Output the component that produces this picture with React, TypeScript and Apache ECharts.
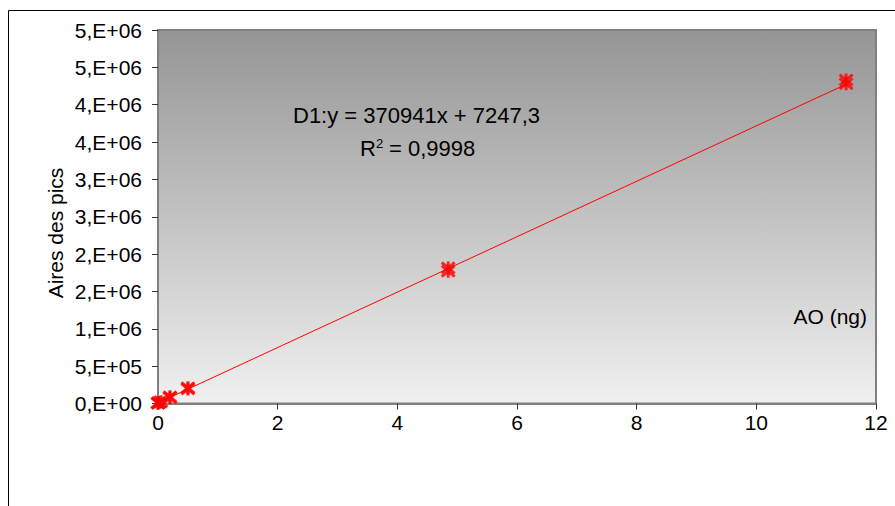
import React, { useEffect, useRef } from "react";
import * as echarts from "echarts";

// Calibration data: AO amount (ng) vs peak area (replicates)
const aoAmounts = [0, 0, 0.02, 0.05, 0.2, 0.2, 0.5, 0.5, 4.85, 4.85, 11.5, 11.5];
const peakAreas = [2000, 9000, 12000, 25000, 78000, 90000, 195000, 210000, 1770000, 1815000, 4280000, 4330000];

// Linear trendline endpoints (D1: y = 370941x + 7247,3)
const trendX = [0, 11.5];
const trendY = [7247.3, 4273068.8];

const xTickLabels = ["0", "2", "4", "6", "8", "10", "12"];
const yTickLabels = [
  "0,E+00", "5,E+05", "1,E+06", "2,E+06", "2,E+06", "3,E+06",
  "3,E+06", "4,E+06", "4,E+06", "5,E+06", "5,E+06",
];

const equationText = "D1:y = 370941x + 7247,3";
const r2Label = "R";
const r2Sup = "2";
const r2Value = "= 0,9998";
const yTitle = "Aires des pics";
const xTitle = "AO (ng)";

const FONT = "'Liberation Sans', Arial, sans-serif";
const STAR = "path://M0,0L10,10M10,0L0,10M5,-1L5,11";

export default function App() {
  const ref = useRef<HTMLDivElement>(null);

  useEffect(() => {
    if (!ref.current) return;
    const chart = echarts.init(ref.current, null, { renderer: "svg" });
    const yInterval = 500000;
    chart.setOption({
      animation: false,
      backgroundColor: "#ffffff",
      grid: {
        left: 158,
        right: 19,
        top: 30,
        bottom: 102.5,
        show: true,
        borderColor: "#808080",
        borderWidth: 2,
        backgroundColor: new echarts.graphic.LinearGradient(0, 0, 0, 1, [
          { offset: 0, color: "#959595" },
          { offset: 1, color: "#f0f0f0" },
        ]),
      },
      xAxis: {
        type: "value",
        min: 0,
        max: 12,
        interval: 2,
        axisLine: { show: true, onZero: false, lineStyle: { color: "#808080", width: 2 } },
        axisTick: { show: true, length: 6, lineStyle: { color: "#333333", width: 1 } },
        splitLine: { show: false },
        axisLabel: {
          margin: 8,
          color: "#000",
          fontFamily: FONT,
          fontSize: 21,
          formatter: (v: number) => xTickLabels[Math.round(v / 2)] ?? String(v),
        },
      },
      yAxis: {
        type: "value",
        min: 0,
        max: 5000000,
        interval: yInterval,
        axisLine: { show: true, onZero: false, lineStyle: { color: "#808080", width: 2 } },
        axisTick: { show: true, length: 6, lineStyle: { color: "#333333", width: 1 } },
        splitLine: { show: false },
        axisLabel: {
          margin: 16,
          color: "#000",
          fontFamily: FONT,
          fontSize: 21,
          formatter: (v: number) => yTickLabels[Math.round(v / yInterval)] ?? "",
        },
      },
      series: [
        {
          type: "line",
          name: "Trendline",
          data: trendX.map((x, i) => [x, trendY[i]]),
          showSymbol: false,
          symbol: "none",
          lineStyle: { color: "#ff0000", width: 1 },
          silent: true,
          z: 2,
        },
        {
          type: "scatter",
          name: "D1",
          data: aoAmounts.map((x, i) => [x, peakAreas[i]]),
          symbol: STAR,
          symbolSize: 13,
          itemStyle: { color: "#ff0000", borderColor: "#ff0000", borderWidth: 3 },
          z: 3,
        },
      ],
      graphic: [
        {
          type: "rect",
          shape: { x: 8.5, y: 10.5, width: 1000, height: 1000 },
          style: { fill: "none", stroke: "#000", lineWidth: 1 },
          silent: true,
          z: -10,
        },
        {
          type: "text",
          x: 55,
          y: 233,
          rotation: Math.PI / 2,
          style: {
            text: yTitle,
            font: `21px ${FONT}`,
            fill: "#000",
            align: "center",
            verticalAlign: "middle",
            textAlign: "center",
            textVerticalAlign: "middle",
          },
        },
        {
          type: "text",
          x: 293,
          y: 115,
          z: 10,
          style: {
            text: equationText,
            font: `22px ${FONT}`,
            fill: "#000",
            align: "left",
            verticalAlign: "middle",
            textAlign: "left",
            textVerticalAlign: "middle",
          },
        },
        {
          type: "text",
          x: 360,
          y: 148,
          z: 10,
          style: {
            text: r2Label,
            font: `22px ${FONT}`,
            fill: "#000",
            align: "left",
            verticalAlign: "middle",
            textAlign: "left",
            textVerticalAlign: "middle",
          },
        },
        {
          type: "text",
          x: 376,
          y: 143,
          z: 10,
          style: {
            text: r2Sup,
            font: `13px ${FONT}`,
            fill: "#000",
            align: "left",
            verticalAlign: "middle",
            textAlign: "left",
            textVerticalAlign: "middle",
          },
        },
        {
          type: "text",
          x: 389,
          y: 148,
          z: 10,
          style: {
            text: r2Value,
            font: `22px ${FONT}`,
            fill: "#000",
            align: "left",
            verticalAlign: "middle",
            textAlign: "left",
            textVerticalAlign: "middle",
          },
        },
        {
          type: "text",
          x: 867,
          y: 316,
          z: 10,
          style: {
            text: xTitle,
            font: `21px ${FONT}`,
            fill: "#000",
            align: "right",
            verticalAlign: "middle",
            textAlign: "right",
            textVerticalAlign: "middle",
          },
        },
      ],
    });
    return () => chart.dispose();
  }, []);

  return (
    <div
      ref={ref}
      style={{ position: "absolute", left: 0, top: 0, width: 895, height: 506 }}
    />
  );
}
